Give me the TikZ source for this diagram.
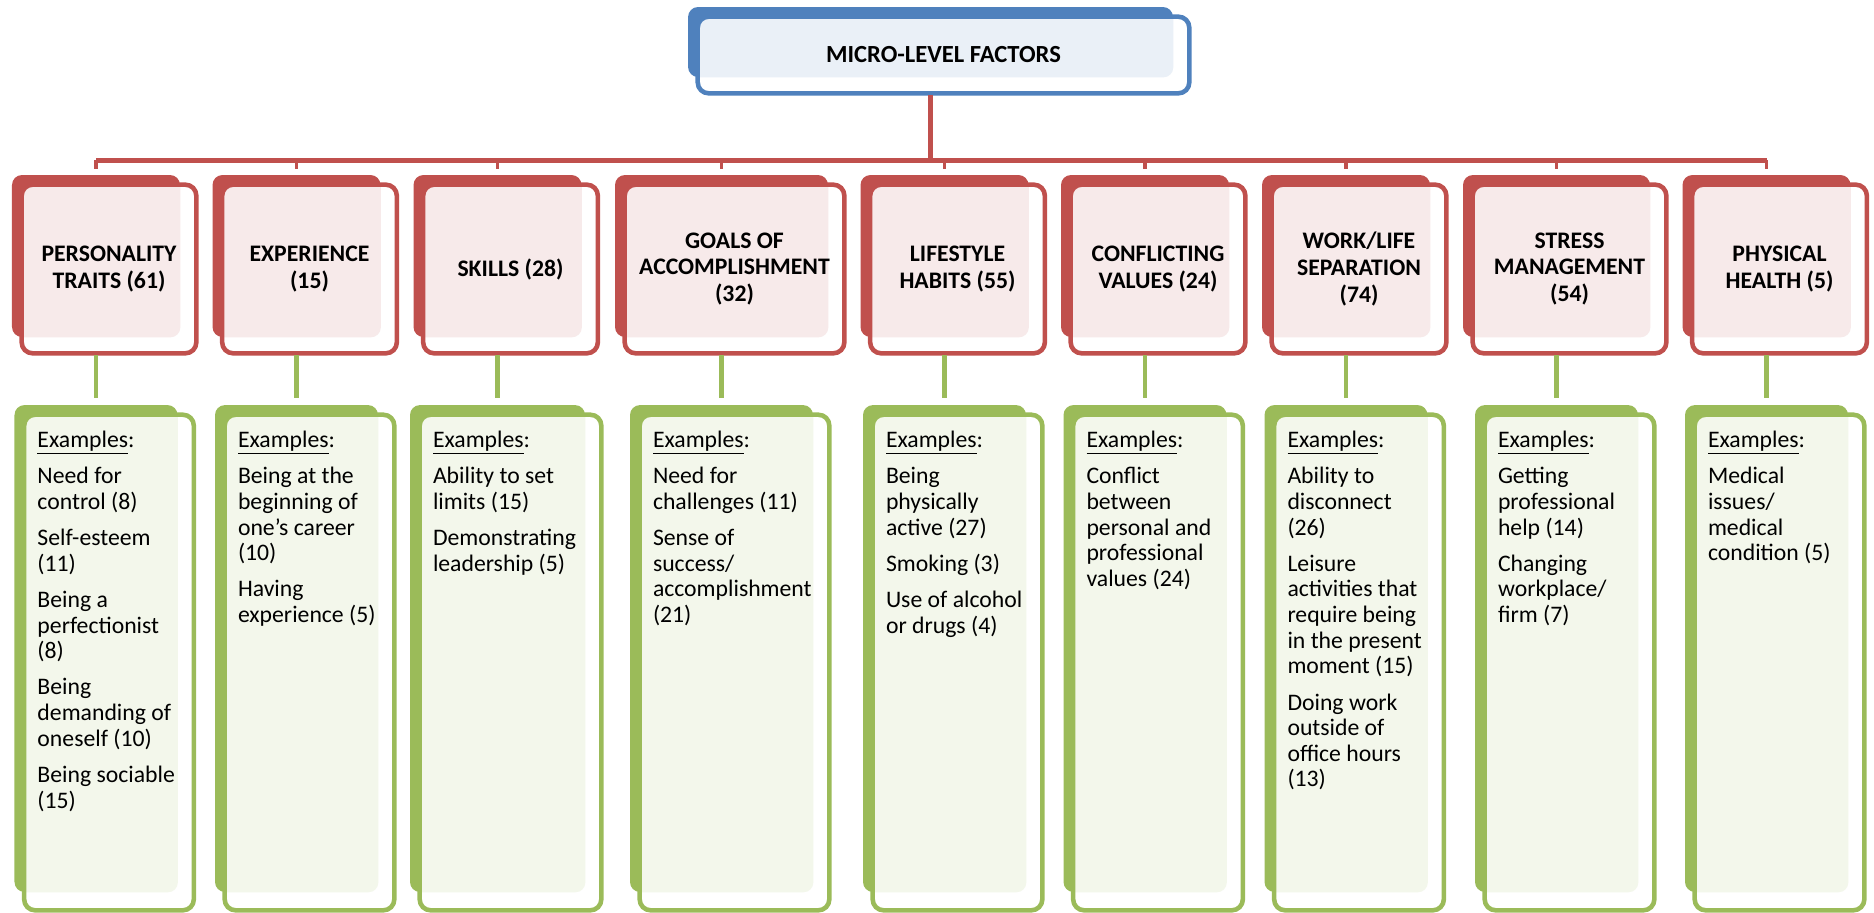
\documentclass[tikz,border=0pt]{standalone}
\usepackage{fontspec}
\setmainfont{Carlito}
\usepackage{xcolor}
\usetikzlibrary{calc}
\definecolor{FactorBlue}{HTML}{4F81BD}
\definecolor{FactorRed}{HTML}{C0504D}
\definecolor{FactorGreen}{HTML}{9BBB59}
\newcommand{\RootFont}{\fontsize{14}{16}\selectfont\bfseries}
\newcommand{\TitleFont}{\fontsize{13.5}{15.3}\selectfont\bfseries}
\newcommand{\ExampleFont}{\fontsize{13.5}{14.6}\selectfont}
\tikzset{
  back box/.style={inner sep=0pt,draw=none,rounded corners=0.2cm},
  front box/.style={line width=2.6pt,rounded corners=0.22cm},
  tree link/.style={draw=FactorRed,line width=2.5pt},
  example link/.style={draw=FactorGreen,line width=2.8pt},
  title text/.style={align=center,font=\TitleFont,text=black,inner sep=0pt},
  example text/.style={align=left,font=\ExampleFont,text=black,inner sep=0pt,anchor=north west}
}

\begin{document}
\begin{tikzpicture}[x=0.02cm,y={(0,-0.02cm)}]
  % 1 unit = 1 pixel of the 1874 x 913 layout, y grows downwards
  \path[use as bounding box] (0,0) rectangle (1874,913);

  % white front card over a solid back card, tint where they overlap
  \newcommand{\stacked}[3]{%
    \path[fill=white,rounded corners=0.22cm]
      ($(#1.north west)+(10,10)$) rectangle ($(#1.south east)+(16,#3)$);%
    \begin{scope}
      \clip[rounded corners=0.22cm]
        ($(#1.north west)+(10,10)$) rectangle ($(#1.south east)+(16,#3)$);
      \fill[#2!12,rounded corners=0.2cm] (#1.north west) rectangle (#1.south east);
    \end{scope}
    \draw[#2,front box]
      ($(#1.north west)+(10,10)$) rectangle ($(#1.south east)+(16,#3)$);%
  }

  \node[back box,fill=FactorBlue,minimum width=9.70cm,minimum height=1.40cm]
    (micro) at (930.5,42) {};
  \stacked{micro}{FactorBlue}{16}
  \node[font=\RootFont,inner sep=0pt] (micro-title) at ($(micro.center)+(13,13)$)
    {MICRO-LEVEL FACTORS};

  \newcommand{\factor}[4]{%
    \pgfmathsetmacro{\bw}{#3*0.02}%
    \node[back box,fill=FactorRed,minimum width=\bw cm,minimum height=3.24cm]
      (#1) at (#2,256) {};%
    \stacked{#1}{FactorRed}{16}%
    \node[title text] (#1-title) at ($(#1.center)+(13,13)$) {#4};%
  }
  \factor{pers}{96}{168}{PERSONALITY\\TRAITS (61)}
  \factor{expe}{296.5}{168}{EXPERIENCE\\(15)}
  \factor{skil}{497.5}{168}{SKILLS (28)}
  \factor{goal}{721.5}{213}{GOALS OF\\ACCOMPLISHMENT\\(32)}
  \factor{life}{944.5}{168}{LIFESTYLE\\HABITS (55)}
  \factor{conf}{1145}{168}{CONFLICTING\\VALUES (24)}
  \factor{work}{1346}{168}{WORK/LIFE\\SEPARATION\\(74)}
  \factor{stre}{1556.5}{187}{STRESS\\MANAGEMENT\\(54)}
  \factor{phys}{1766.5}{168}{PHYSICAL\\HEALTH (5)}

  \newcommand{\examples}[4]{%
    \pgfmathsetmacro{\bw}{#3*0.02}%
    \node[back box,fill=FactorGreen,minimum width=\bw cm,minimum height=9.74cm]
      (#1) at (#2,648.5) {};%
    \stacked{#1}{FactorGreen}{18}%
    \node[example text] (#1-text) at ($(#1.north west)+(23,26)$)
      {\underline{Examples}:\\[6pt]#4};%
  }
  \examples{pers-ex}{96}{163}{Need for\\control (8)\\[6pt]Self-esteem\\(11)\\[6pt]%
    Being a\\perfectionist\\(8)\\[6pt]Being\\demanding of\\oneself (10)\\[6pt]%
    Being sociable\\(15)}
  \examples{expe-ex}{296.5}{163}{Being at the\\beginning of\\one’s career\\(10)\\[6pt]%
    Having\\experience (5)}
  \examples{skil-ex}{497.5}{175}{Ability to set\\limits (15)\\[6pt]%
    Demonstrating\\leadership (5)}
  \examples{goal-ex}{721.5}{183}{Need for\\challenges (11)\\[6pt]%
    Sense of\\success/\\accomplishment\\(21)}
  \examples{life-ex}{944.5}{163}{Being\\physically\\active (27)\\[6pt]Smoking (3)\\[6pt]%
    Use of alcohol\\or drugs (4)}
  \examples{conf-ex}{1145}{163}{Conflict\\between\\personal and\\professional\\values (24)}
  \examples{work-ex}{1346}{163}{Ability to\\disconnect\\(26)\\[6pt]%
    Leisure\\activities that\\require being\\in the present\\moment (15)\\[6pt]%
    Doing work\\outside of\\office hours\\(13)}
  \examples{stre-ex}{1556.5}{163}{Getting\\professional\\help (14)\\[6pt]%
    Changing\\workplace/\\firm (7)}
  \examples{phys-ex}{1766.5}{163}{Medical\\issues/\\medical\\condition (5)}

  % connectors
  \coordinate (hub) at ($(micro.south)+(0,83)$);
  \draw[tree link,shorten <=0.36cm] (micro.south) -- (hub);
  \draw[tree link] (hub -| pers.north) -- (hub -| phys.north);
  \foreach \f in {pers,expe,skil,goal,life,conf,work,stre,phys}{
    \draw[tree link,line width=2.2pt,shorten >=0.12cm] (hub -| \f.north) -- (\f.north);
    \draw[example link,shorten <=0.36cm,shorten >=0.14cm] (\f.south) -- (\f-ex.north);
  }
\end{tikzpicture}
\end{document}
